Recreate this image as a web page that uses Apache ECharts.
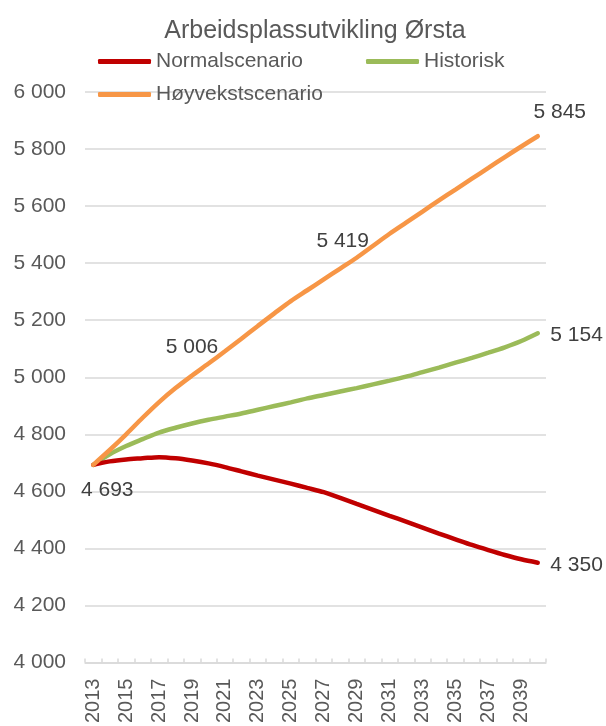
<!DOCTYPE html>
<html>
<head>
<meta charset="utf-8">
<script src="https://cdn.jsdelivr.net/npm/echarts@6/dist/echarts.min.js"></script>
<style>
html,body{margin:0;padding:0;background:#fff;}
#c{width:606px;height:726px;}
</style>
</head>
<body>
<div id="c"></div>
<script>
const titleText = 'Arbeidsplassutvikling Ørsta';
const years = ['2013','2014','2015','2016','2017','2018','2019','2020','2021','2022','2023','2024','2025','2026','2027','2028','2029','2030','2031','2032','2033','2034','2035','2036','2037','2038','2039','2040'];
const normal = [4693,4705,4712,4716,4720,4716,4708,4698,4685,4670,4655,4641,4627,4612,4597,4577,4556,4535,4514,4494,4473,4452,4432,4412,4394,4377,4362,4350];
const historisk = [4693,4730,4759,4783,4806,4823,4838,4851,4862,4873,4886,4899,4912,4926,4938,4950,4962,4975,4988,5002,5018,5034,5051,5068,5086,5105,5127,5154];
const hoyvekst = [4693,4745,4800,4858,4913,4962,5006,5048,5091,5135,5180,5224,5267,5305,5343,5381,5419,5461,5503,5542,5581,5620,5658,5696,5734,5772,5809,5845];
const seriesNames = ['Normalscenario','Historisk','Høyvekstscenario'];
const yMin = 4000, yMax = 6000, yStep = 200;

const fmt = v => String(v).replace(/\B(?=(\d{3})+(?!\d))/g, ' ');
const FONT = '"Liberation Sans", Arial, sans-serif';

// label placement styles (which points carry a label)
const labelStyles = {
  0: { 0: {position:'bottom', offset:[14,9]}, 27: {position:'right', distance:12, offset:[0,3]} },
  1: { 27: {position:'right', distance:12, offset:[0,2]} },
  2: { 6: {position:'top', offset:[0,-12]}, 16: {position:'top', offset:[-14,-1]}, 27: {position:'top', offset:[22,-8]} }
};

function build(values, si) {
  return values.map((v, i) => {
    const ls = labelStyles[si][i];
    if (!ls) return v;
    return { value: v, label: Object.assign({ show: true, formatter: p => fmt(p.value), color:'#404040', fontSize:21, fontFamily: FONT, distance:5 }, ls) };
  });
}

const colors = ['#C00000','#9BBB59','#F79646'];
const chart = echarts.init(document.getElementById('c'), null, {renderer:'canvas'});
const legendBase = { orient:'horizontal', itemWidth:53, itemHeight:5, icon:'roundRect', padding:0, itemGap:10,
  textStyle:{ color:'#595959', fontSize:21, fontFamily: FONT } };
chart.setOption({
  animation:false,
  color: colors,
  title: { text: titleText, left: 310, top: 14, textAlign:'center',
    textStyle:{ color:'#595959', fontSize:25, fontWeight:'normal', fontFamily: FONT } },
  legend: [
    Object.assign({}, legendBase, { data:[seriesNames[0]], left:98, top:51 }),
    Object.assign({}, legendBase, { data:[seriesNames[1]], left:366, top:51 }),
    Object.assign({}, legendBase, { data:[seriesNames[2]], left:98, top:84 })
  ],
  grid: { left:85, right:60, top:92, bottom:63, containLabel:false },
  xAxis: {
    type:'category', data: years, boundaryGap:true,
    axisLine:{ lineStyle:{ color:'#D9D9D9', width:1.5 } },
    axisTick:{ show:true, inside:true, length:4, interval:0, lineStyle:{ color:'#D9D9D9', width:1.5 } },
    axisLabel:{ interval:1, rotate:90, margin:16, color:'#595959', fontSize:20, fontFamily: FONT },
    splitLine:{ show:false }
  },
  yAxis: {
    type:'value', min:yMin, max:yMax, interval:yStep,
    axisLine:{ show:false }, axisTick:{ show:false },
    axisLabel:{ margin:19, color:'#595959', fontSize:21, fontFamily: FONT, formatter: v => fmt(v) },
    splitLine:{ lineStyle:{ color:'#D9D9D9', width:1.5 } }
  },
  series: [normal, historisk, hoyvekst].map((vals, si) => ({
    name: seriesNames[si], type:'line', data: build(vals, si),
    smooth:0.3, symbol:'circle', symbolSize:1, showSymbol:true,
    itemStyle:{ color: colors[si] },
    lineStyle:{ width:4.5, color: colors[si], cap:'round' },
    emphasis:{ disabled:true },
    z: si === 0 ? 4 : (si === 1 ? 3 : 5)
  }))
});
</script>
</body>
</html>
